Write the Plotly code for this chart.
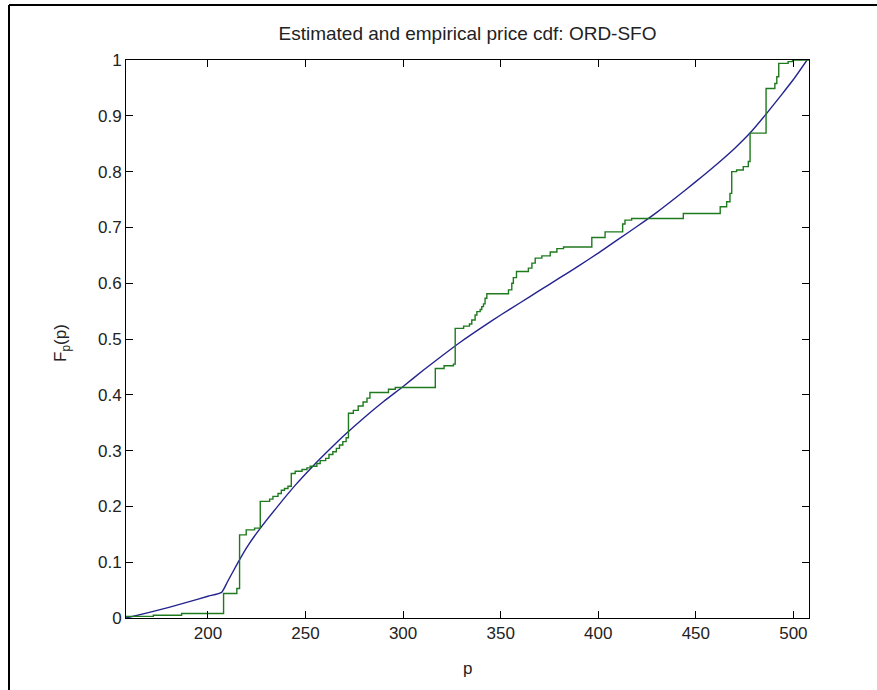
import plotly.graph_objects as go

# Estimated (smooth) cdf
est_p = [158, 170, 180, 190, 200, 207, 210, 215, 220, 226, 235, 245, 254, 262, 270,
         280, 290, 300, 310, 320, 330, 340, 350, 360, 370, 380, 390, 400, 410, 420,
         430, 440, 450, 460, 470, 478, 486, 494, 500, 507]
est_F = [0.0, 0.010, 0.019, 0.029, 0.039, 0.046, 0.065, 0.097, 0.127, 0.157, 0.197,
         0.239, 0.273, 0.301, 0.328, 0.359, 0.388, 0.415, 0.443, 0.470, 0.496, 0.520,
         0.543, 0.565, 0.587, 0.609, 0.631, 0.654, 0.678, 0.702, 0.727, 0.754, 0.782,
         0.811, 0.842, 0.870, 0.903, 0.938, 0.965, 1.0]

# Empirical cdf (step positions and levels after each step)
emp_p = [158.0, 172.0, 186.5, 208.0, 214.8, 216.2, 219.6, 223.9, 226.8, 231.6, 233.3,
         235.9, 237.6, 239.2, 241.0, 242.7, 244.7, 248.2, 250.7, 252.4, 255.8, 257.5,
         260.3, 262.0, 264.0, 265.8, 267.4, 269.1, 270.8, 272.0, 274.5, 277.0, 279.5,
         281.5, 283.0, 292.5, 296.0, 316.5, 321.0, 325.8, 326.7, 331.0, 334.0, 335.2,
         336.9, 337.8, 339.5, 340.3, 341.2, 342.0, 342.9, 354.0, 355.7, 356.5, 358.1,
         364.2, 366.0, 367.7, 371.1, 375.4, 378.8, 382.2, 396.7, 403.5, 412.5, 413.7,
         417.1, 443.6, 462.5, 465.8, 467.5, 468.4, 470.9, 474.3, 476.9, 477.8, 486.0,
         490.5, 491.5, 492.5, 497.3, 499.5, 508.0]
emp_F = [0.003, 0.005, 0.008, 0.044, 0.053, 0.149, 0.158, 0.161, 0.209, 0.213, 0.218,
         0.223, 0.229, 0.232, 0.236, 0.259, 0.263, 0.266, 0.269, 0.272, 0.277, 0.282,
         0.286, 0.293, 0.298, 0.304, 0.310, 0.316, 0.323, 0.367, 0.372, 0.380, 0.387,
         0.394, 0.404, 0.410, 0.413, 0.447, 0.452, 0.455, 0.519, 0.523, 0.527, 0.534,
         0.543, 0.549, 0.553, 0.558, 0.563, 0.573, 0.581, 0.588, 0.600, 0.610, 0.621,
         0.627, 0.636, 0.645, 0.649, 0.656, 0.662, 0.665, 0.682, 0.692, 0.706, 0.713,
         0.716, 0.725, 0.737, 0.746, 0.761, 0.800, 0.803, 0.809, 0.818, 0.869, 0.949,
         0.958, 0.970, 0.994, 0.997, 1.000, 1.000]

x_ticks = [200, 250, 300, 350, 400, 450, 500]
y_ticks = [0, 0.1, 0.2, 0.3, 0.4, 0.5, 0.6, 0.7, 0.8, 0.9, 1]
y_tick_text = ["0", "0.1", "0.2", "0.3", "0.4", "0.5", "0.6", "0.7", "0.8", "0.9", "1"]

FONT = "Liberation Sans, Arial, sans-serif"

fig = go.Figure()
fig.add_trace(go.Scatter(x=est_p, y=est_F, mode="lines",
                         line=dict(color="#23238f", width=1.4, shape="spline", smoothing=0.5),
                         showlegend=False))
fig.add_trace(go.Scatter(x=emp_p, y=emp_F, mode="lines", line_shape="hv",
                         line=dict(color="#1f7a1f", width=1.4), showlegend=False))

axis_common = dict(showline=True, linecolor="black", linewidth=1, mirror="ticks",
                   ticks="inside", ticklen=7, tickcolor="black", tickwidth=1,
                   showgrid=False, zeroline=False,
                   tickfont=dict(family=FONT, size=17, color="#222"))

fig.update_xaxes(range=[158, 508], tickvals=x_ticks, **axis_common)
fig.update_yaxes(range=[0, 1], tickvals=y_ticks, ticktext=y_tick_text, **axis_common)

fig.update_layout(
    width=877, height=690,
    margin=dict(l=126, r=68, t=60, b=72, pad=0),
    paper_bgcolor="white", plot_bgcolor="white",
    title=dict(text="Estimated and empirical price cdf: ORD-SFO",
               x=(126 + 809) / 2 / 877, xanchor="center",
               y=1 - 33 / 690, yanchor="middle",
               font=dict(family=FONT, size=19, color="#222")),
    annotations=[
        dict(text="p", xref="paper", yref="paper", x=0.5, y=(618 - 668) / 558,
             xanchor="center", yanchor="middle", showarrow=False,
             font=dict(family=FONT, size=17, color="#222")),
        dict(text="F<sub>p</sub>(p)", xref="paper", yref="paper",
             x=(62 - 126) / 683, y=(618 - 343) / 558, textangle=-90,
             xanchor="center", yanchor="middle", showarrow=False,
             font=dict(family=FONT, size=17, color="#222")),
    ],
    shapes=[
        dict(type="line", xref="paper", yref="paper",
             x0=(9 - 126) / 683, x1=(877 - 126) / 683,
             y0=(618 - 5) / 558, y1=(618 - 5) / 558,
             line=dict(color="black", width=2)),
        dict(type="line", xref="paper", yref="paper",
             x0=(9 - 126) / 683, x1=(9 - 126) / 683,
             y0=(618 - 5) / 558, y1=(618 - 690) / 558,
             line=dict(color="black", width=2)),
    ],
)

fig.write_html("out.html")
